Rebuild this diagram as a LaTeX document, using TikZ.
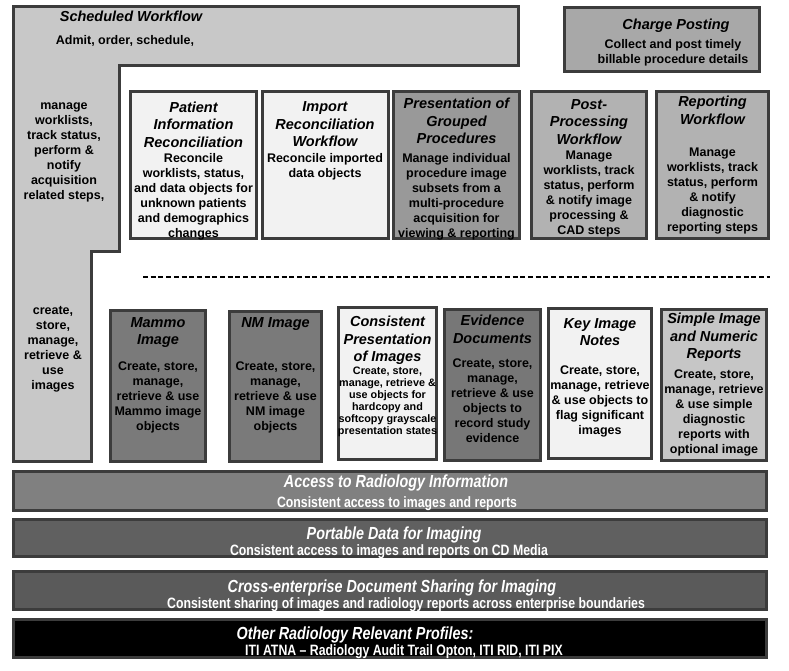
\documentclass[tikz,border=0pt]{standalone}
\usepackage{fontspec}
\setmainfont{Liberation Sans}
\newfontfamily\narrowfont[FakeStretch=0.82]{Liberation Sans}
\usetikzlibrary{fit}

\definecolor{edgegray}{HTML}{3C3C3C}
\definecolor{schedgray}{HTML}{C8C8C8}
\definecolor{palegray}{HTML}{F2F2F2}
\definecolor{midgray}{HTML}{999999}
\definecolor{softgray}{HTML}{B2B2B2}
\definecolor{chargegray}{HTML}{A8A8A8}
\definecolor{darkgray}{HTML}{7A7A7A}
\definecolor{evgray}{HTML}{777777}
\definecolor{simplegray}{HTML}{C6C6C6}
\definecolor{accessgray}{HTML}{808080}
\definecolor{pdigray}{HTML}{606060}
\definecolor{xdsgray}{HTML}{5A5A5A}

\begin{document}
\begin{tikzpicture}[x=1pt, y=-1pt,
    prof/.style={draw=edgegray, line width=3pt, inner sep=0pt, outer sep=0pt},
    ttl/.style={font=\bfseries\itshape\fontsize{14.5}{17.5}\selectfont, align=center, inner sep=0pt, anchor=north},
    body/.style={font=\bfseries\fontsize{12.5}{15}\selectfont, align=center, inner sep=0pt, anchor=north},
    small/.style={font=\bfseries\fontsize{10.8}{12}\selectfont, align=center, inner sep=0pt, anchor=north},
    bandttl/.style={font=\narrowfont\bfseries\itshape\fontsize{17.5}{20}\selectfont, text=white, inner sep=0pt, anchor=base},
    bandsub/.style={font=\narrowfont\bfseries\fontsize{15}{17}\selectfont, text=white, inner sep=0pt, anchor=base}]
      \useasboundingbox (0,0) rectangle (789,671);

      % scheduled workflow frame
      \draw[prof, fill=schedgray] (13.5,6.5) -- (518.5,6.5) -- (518.5,66) -- (119,66) -- (119,251)
        -- (91,251) -- (91,461.5) -- (13.5,461.5) -- cycle;
      \node[ttl] (sw-title) at (131,11) {Scheduled Workflow};
      \node[body] (sw-body) at (125,35) {Admit, order, schedule,};
      \node[body, anchor=center] (sw-acq) at (64,152) {manage\\worklists,\\track status,\\perform \&\\notify\\acquisition\\related steps,};
      \node[body, anchor=center] (sw-img) at (53,349) {create,\\store,\\manage,\\retrieve \&\\use\\images};

      % charge posting
      \node[prof, fill=chargegray, fit={(564.5,7.5) (759.5,71.5)}] (cp) {};
      \node[ttl] (cp-title) at (676,19) {Charge Posting};
      \node[body] (cp-body) at (673,39) {Collect and post timely\\billable procedure details};

      % upper row
      \node[prof, fill=palegray, fit={(130.5,92) (256.5,238.5)}] (pir) {};
      \node[ttl] (pir-title) at (193.5,101.5) {Patient\\Information\\Reconciliation};
      \node[body] (pir-body) at (193.5,153.5) {Reconcile\\worklists, status,\\and data objects for\\unknown patients\\and demographics\\changes};

      \node[prof, fill=palegray, fit={(262,92) (388,238.5)}] (irw) {};
      \node[ttl] (irw-title) at (325,101.5) {Import\\Reconciliation\\Workflow};
      \node[body] (irw-body) at (325,153.5) {Reconcile imported\\data objects};

      \node[prof, fill=midgray, fit={(393.5,92) (519.5,238.5)}] (pgp) {};
      \node[ttl] (pgp-title) at (456.5,98) {Presentation of\\Grouped\\Procedures};
      \node[body] (pgp-body) at (456.5,153) {Manage individual\\procedure image\\subsets from a\\multi-procedure\\acquisition for\\viewing \& reporting};

      \node[prof, fill=softgray, fit={(531.5,92) (646.5,238.5)}] (ppw) {};
      \node[ttl] (ppw-title) at (589,99) {Post-\\Processing\\Workflow};
      \node[body] (ppw-body) at (589,150.5) {Manage\\worklists, track\\status, perform\\\& notify image\\processing \&\\CAD steps};

      \node[prof, fill=softgray, fit={(656.5,92) (768.5,238.5)}] (rw) {};
      \node[ttl] (rw-title) at (712.5,96) {Reporting\\Workflow};
      \node[body] (rw-body) at (712.5,147.5) {Manage\\worklists, track\\status, perform\\\& notify\\diagnostic\\reporting steps};

      \draw[line width=1.2pt, dash pattern=on 5pt off 2.7pt] (143,277) -- (770,277);

      % lower row
      \node[prof, fill=darkgray, fit={(110.5,310.5) (205.5,461.5)}] (mammo) {};
      \node[ttl] (mammo-title) at (158,317) {Mammo\\Image};
      \node[body] (mammo-body) at (158,361.5) {Create, store,\\manage,\\retrieve \& use\\Mammo image\\objects};

      \node[prof, fill=darkgray, fit={(229.5,311.5) (321.5,461.5)}] (nm) {};
      \node[ttl] (nm-title) at (275.5,317) {NM Image};
      \node[body] (nm-body) at (275.5,361.5) {Create, store,\\manage,\\retrieve \& use\\NM image\\objects};

      \node[prof, fill=palegray, fit={(338.5,307.5) (436.5,459.5)}] (cpi) {};
      \node[ttl] (cpi-title) at (387.5,316) {Consistent\\Presentation\\of Images};
      \node[small] (cpi-body) at (387.5,367) {Create, store,\\manage, retrieve \&\\use objects for\\hardcopy and\\softcopy grayscale\\presentation states};

      \node[prof, fill=evgray, fit={(444.5,309.5) (540.5,460.5)}] (ed) {};
      \node[ttl] (ed-title) at (492.5,315) {Evidence\\Documents};
      \node[body] (ed-body) at (492.5,358.5) {Create, store,\\manage,\\retrieve \& use\\objects to\\record study\\evidence};

      \node[prof, fill=palegray, fit={(548.5,308.5) (651.5,458.5)}] (kin) {};
      \node[ttl] (kin-title) at (600,318) {Key Image\\Notes};
      \node[body] (kin-body) at (600,365.5) {Create, store,\\manage, retrieve\\\& use objects to\\flag significant\\images};

      \node[prof, fill=simplegray, fit={(661.5,309.5) (766.5,460.5)}] (sinr) {};
      \node[ttl] (sinr-title) at (714,313) {Simple Image\\and Numeric\\Reports};
      \node[body] (sinr-body) at (714,369.5) {Create, store,\\manage, retrieve\\\& use simple\\diagnostic\\reports with\\optional image};

      % horizontal profiles
      \node[prof, fill=accessgray, fit={(13.5,471.5) (766.5,510.5)}] (ari) {};
      \node[bandttl] (ari-title) at (396,487) {Access to Radiology Information};
      \node[bandsub] (ari-sub) at (397,507.5) {Consistent access to images and reports};

      \node[prof, fill=pdigray, fit={(13.5,519.5) (766.5,556.5)}] (pdi) {};
      \node[bandttl] (pdi-title) at (394,539) {Portable Data for Imaging};
      \node[bandsub] (pdi-sub) at (389,555.5) {Consistent access to images and reports on CD Media};

      \node[prof, fill=xdsgray, fit={(13.5,571.5) (766.5,609.5)}] (xdsi) {};
      \node[bandttl] (xdsi-title) at (392,592) {Cross-enterprise Document Sharing for Imaging};
      \node[bandsub] (xdsi-sub) at (406,608.5) {Consistent sharing of images and radiology reports across enterprise boundaries};

      \node[prof, fill=black, fit={(13.5,619.5) (766.5,657.5)}] (other) {};
      \node[bandttl] (other-title) at (355,639) {Other Radiology Relevant Profiles:};
      \node[bandsub] (other-sub) at (404,655.5) {ITI ATNA – Radiology Audit Trail Opton, ITI RID, ITI PIX};
    \end{tikzpicture}
\end{document}
